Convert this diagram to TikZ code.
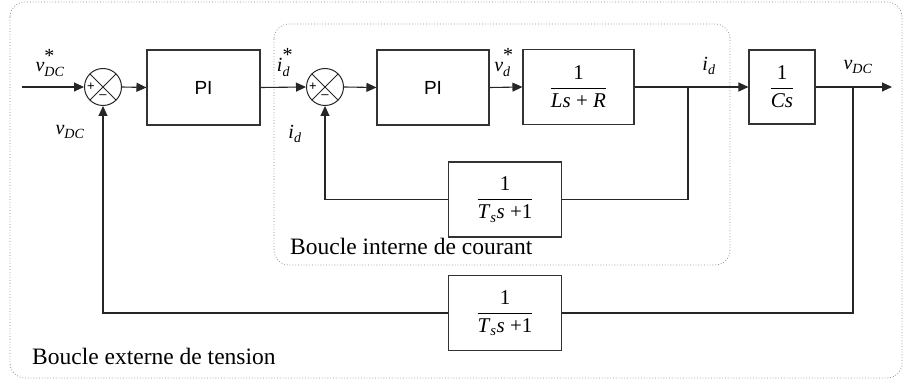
\documentclass[tikz,border=0pt]{standalone}
\usepackage{amsmath}
\usepackage{fontspec}
\setmainfont{Liberation Serif}
\newfontfamily\arialfont{Liberation Sans}
\usetikzlibrary{arrows.meta,calc}
% signal names: italic letter with italic subscript, with or without a star
\newcommand{\sigref}[2]{$\textit{#1}^{\raisebox{2pt}{\text{*}}}_{\textit{#2}}$}
\newcommand{\sigmeas}[2]{$\textit{#1}_{\textit{#2}}$}
% transfer function 1 / (denominator)
\newcommand{\tfun}[1]{${\displaystyle\frac{\mbox{1}}{\mbox{#1}}}$}
\begin{document}
\begin{tikzpicture}[x=1pt,y=-1pt,
  wire/.style={line width=1.1pt, draw=black!85},
  arr/.style={wire, -{Triangle[length=10pt,width=9pt]}},
  blk/.style={draw=black!80, line width=1.1pt, minimum height=75pt, inner sep=0pt},
  pibox/.style={blk, minimum width=113pt, font=\arialfont\fontsize{19}{21}\selectfont},
  tfbox/.style={blk, font=\fontsize{21}{23}\selectfont},
  sumnode/.style={draw=black!85, line width=1pt, circle, minimum size=37pt, inner sep=0pt,
    path picture={\draw[line width=0.9pt] (path picture bounding box.north west) -- (path picture bounding box.south east)
      (path picture bounding box.north east) -- (path picture bounding box.south west);}},
  sgn/.style={font=\arialfont\fontsize{13}{14}\selectfont, inner sep=0pt},
  lbl/.style={font=\fontsize{20}{22}\selectfont, inner sep=0pt},
  loopframe/.style={draw=black!45, dotted, line width=0.8pt, rounded corners=15pt},
  loopcaption/.style={font=\fontsize{23.5}{25}\selectfont, inner sep=0pt, anchor=base west}]
\useasboundingbox (0,0) rectangle (906,382);

% loop frames
\draw[loopframe] (10,2) rectangle (902,378);
\draw[loopframe] (274,24) rectangle (730,265);

% main chain
\coordinate (in) at (22,87);
\node[sumnode] (s1) at (103,87) {};
\node[pibox] (pi1) at (203.5,87.5) {PI};
\node[sumnode] (s2) at (325,87) {};
\node[pibox, minimum width=112pt] (pi2) at (433,87.5) {PI};
\node[tfbox, minimum width=111pt] (g1) at (578.5,87) {\tfun{\textit{Ls} + \textit{R}}};
\coordinate (bi) at (688,87);
\node[tfbox, minimum width=66pt, minimum height=74pt] (g2) at (782,87) {\tfun{\textit{Cs}}};
\coordinate (bv) at (853,87);
\coordinate (out) at (892,87);

% feedback filters
\node[tfbox, minimum width=113pt] (h1) at (505,199.5) {\tfun{\textit{T}\textsubscript{\textit{s}}\textit{s} +1}};
\node[tfbox, minimum width=113pt] (h2) at (505,313) {\tfun{\textit{T}\textsubscript{\textit{s}}\textit{s} +1}};

% summing signs
\node[sgn] (p1) at ($(s1)+(-12,0)$) {+};
\node[sgn] (m1) at ($(s1)+(0,10)$) {\textendash};
\node[sgn] (p2) at ($(s2)+(-12,0)$) {+};
\node[sgn] (m2) at ($(s2)+(0,10)$) {\textendash};

% forward connectors
\draw[arr] (in) -- (s1.west);
\draw[arr] (s1.east) -- (pi1.west);
\draw[arr] (pi1.east) -- (s2.west);
\draw[arr] (s2.east) -- (pi2.west);
\draw[arr] (pi2.east) -- (g1.west);
\draw[wire] (g1.east) -- (bi);
\draw[arr] (bi) -- (g2.west);
\draw[wire] (g2.east) -- (bv);
\draw[arr] (bv) -- (out);

% feedback connectors
\draw[wire] (bi) |- (h1.east);
\draw[arr] (h1.west) -| (s2.south);
\draw[wire] (bv) |- (h2.east);
\draw[arr] (h2.west) -| (s1.south);

% signal labels
\node[lbl] (l1) at (50,63) {\sigref{v}{DC}};
\node[lbl] (l2) at (70,132) {\sigmeas{v}{DC}};
\node[lbl] (l3) at (285,63) {\sigref{i}{d}};
\node[lbl] (l4) at (295,134) {\sigmeas{i}{d}};
\node[lbl] (l5) at (504,63) {\sigref{v}{d}};
\node[lbl] (l6) at (709,66) {\sigmeas{i}{d}};
\node[lbl] (l7) at (858,67) {\sigmeas{v}{DC}};

% loop captions
\node[loopcaption] (c1) at (290,255) {Boucle interne de courant};
\node[loopcaption] (c2) at (32,365) {Boucle externe de tension};
\end{tikzpicture}
\end{document}
